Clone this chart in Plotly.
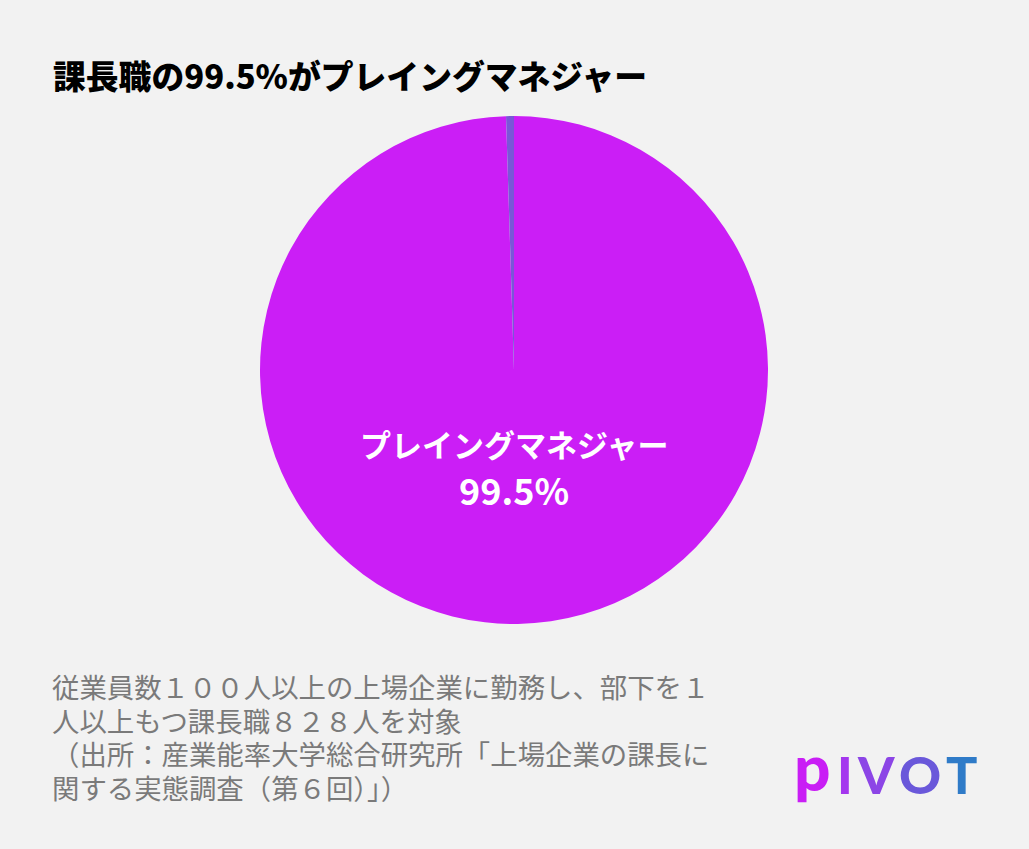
import plotly.graph_objs as go

# data
labels = ['プレイングマネジャー', 'その他']
values = [99.5, 0.5]
colors = ['#CB1EF6', '#7A56D8']

title = '課長職の99.5%がプレイングマネジャー'
note_lines = [
    '従業員数１００人以上の上場企業に勤務し、部下を１',
    '人以上もつ課長職８２８人を対象',
    '（出所：産業能率大学総合研究所「上場企業の課長に',
    '関する実態調査（第６回）」）',
]
note_y = [686, 720, 753, 787]
logo_letters = ['p', 'I', 'V', 'O', 'T']
logo_colors = ['#C91EF5', '#A436EE', '#8C45E6', '#6A58DA', '#2F7BC8']
logo_x = [812, 845, 876, 920, 961]

W, H = 1029, 849
bg = '#F2F2F2'
jp = 'Noto Sans CJK JP'


def main():
    fig = go.Figure()
    fig.add_trace(go.Pie(
        labels=labels,
        values=values,
        marker=dict(colors=colors, line=dict(width=0)),
        sort=False,
        direction='clockwise',
        rotation=0,
        textinfo='none',
        hoverinfo='label+percent',
        showlegend=False,
        domain=dict(x=[260 / W, 768 / W], y=[1 - 624 / H, 1 - 116 / H]),
    ))

    ann = []
    # title
    ann.append(dict(
        text=title, x=51 / W, y=1 - 75 / H, xref='paper', yref='paper',
        xanchor='left', yanchor='middle', showarrow=False,
        font=dict(family=jp, size=32.8, color='#000000', weight=900)))
    # label inside the big slice
    ann.append(dict(
        text='<b>' + labels[0] + '</b>', x=514 / W, y=1 - 443 / H, xref='paper', yref='paper',
        xanchor='center', yanchor='middle', showarrow=False,
        font=dict(family=jp, size=31, color='white')))
    ann.append(dict(
        text='<b>%.1f%%</b>' % values[0], x=514 / W, y=1 - 489 / H, xref='paper', yref='paper',
        xanchor='center', yanchor='middle', showarrow=False,
        font=dict(family=jp, size=36, color='white')))
    # source note
    for line, y in zip(note_lines, note_y):
        ann.append(dict(
            text=line, x=50 / W, y=1 - y / H, xref='paper', yref='paper',
            xanchor='left', yanchor='middle', showarrow=False,
            font=dict(family=jp, size=27.4, color='#7A7A7A')))
    # logo, one letter at a time
    for l, c, x in zip(logo_letters, logo_colors, logo_x):
        big = l == 'p'
        ann.append(dict(
            text=l, x=x / W, y=1 - (766 if big else 774) / H, xref='paper', yref='paper',
            xanchor='center', yanchor='middle', showarrow=False,
            font=dict(family='Lato', size=64 if big else 52, color=c, weight=900)))

    fig.update_layout(
        width=W, height=H,
        margin=dict(l=0, r=0, t=0, b=0),
        paper_bgcolor=bg, plot_bgcolor=bg,
        annotations=ann,
    )
    fig.write_html('out.html', config={'displayModeBar': False},
                   post_script="document.body.style.margin='0';document.body.style.background='%s';" % bg)


if __name__ == '__main__':
    main()
